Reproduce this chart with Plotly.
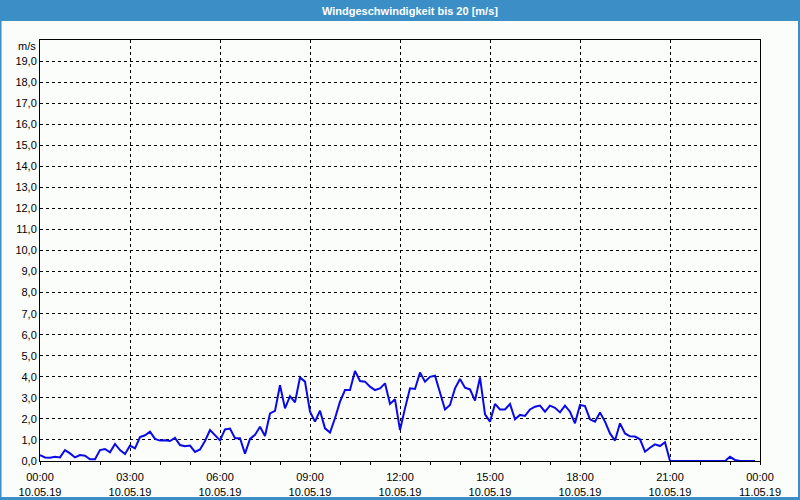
import pandas as pd
import plotly.graph_objects as go

# Wind speed [m/s], 10-minute values from 10.05.19 00:00 to 23:50
speed = [
    0.28, 0.17, 0.16, 0.20, 0.17, 0.52, 0.36, 0.17, 0.28, 0.25, 0.08, 0.08,
    0.52, 0.57, 0.41, 0.81, 0.52, 0.33, 0.73, 0.60, 1.14, 1.22, 1.39, 1.05,
    0.97, 0.98, 0.95, 1.10, 0.76, 0.70, 0.73, 0.43, 0.55, 0.95, 1.47, 1.24,
    0.98, 1.50, 1.54, 1.08, 1.08, 0.35, 1.05, 1.24, 1.63, 1.19, 2.26, 2.38,
    3.60, 2.50, 3.08, 2.79, 3.97, 3.77, 2.34, 1.87, 2.39, 1.55, 1.35, 2.03,
    2.82, 3.37, 3.37, 4.28, 3.80, 3.77, 3.53, 3.37, 3.45, 3.69, 2.71, 2.93,
    1.47, 2.50, 3.45, 3.42, 4.20, 3.77, 4.00, 4.05, 3.21, 2.45, 2.66, 3.45,
    3.90, 3.48, 3.40, 2.87, 3.97, 2.22, 1.87, 2.71, 2.45, 2.45, 2.71, 1.98,
    2.19, 2.14, 2.45, 2.58, 2.63, 2.34, 2.63, 2.53, 2.31, 2.63, 2.34, 1.79,
    2.66, 2.61, 1.98, 1.87, 2.30, 1.87, 1.31, 0.97, 1.79, 1.31, 1.17, 1.16,
    1.03, 0.44, 0.63, 0.79, 0.71, 0.89, 0.00, 0.00, 0.00, 0.00, 0.00, 0.00,
    0.00, 0.00, 0.00, 0.00, 0.00, 0.00, 0.20, 0.05, 0.00, 0.00, 0.00, 0.00,
]
times = pd.date_range("2019-05-10 00:00", periods=len(speed), freq="10min")

x_ticks = pd.date_range("2019-05-10 00:00", periods=9, freq="3h")
x_ticktext = [t.strftime("%H:%M") + "<br>" + t.strftime("%d.%m.%y") for t in x_ticks]
y_ticks = list(range(0, 20))
y_ticktext = [f"{v},0" for v in y_ticks]

title_text = "Windgeschwindigkeit bis 20 [m/s]"
unit_text = "m/s"

BLUE = "#3c8fc6"
BG = "#fbfdfb"
FONT = "Liberation Sans, Arial, sans-serif"

W, H = 800, 500
L, R, T, B = 40, 40, 40, 39
pw, ph = W - L - R, H - T - B


def px(xp):
    return (xp - L) / pw


def py(yp):
    return (H - B - yp) / ph


fig = go.Figure()
fig.add_trace(go.Scatter(
    x=times, y=speed, mode="lines",
    line=dict(color="#0a0ae6", width=2),
    hoverinfo="skip", showlegend=False,
))

fig.update_layout(
    width=W, height=H,
    margin=dict(l=L, r=R, t=T, b=B, autoexpand=False),
    paper_bgcolor=BG, plot_bgcolor=BG,
    font=dict(family=FONT, size=11, color="black"),
    showlegend=False,
    xaxis=dict(
        range=[times[0], pd.Timestamp("2019-05-11 00:00")],
        tickmode="array", tickvals=x_ticks, ticktext=x_ticktext,
        ticks="outside", ticklen=3, tickcolor="black",
        showgrid=True, gridcolor="black", gridwidth=1, griddash="3px,3px",
        showline=True, linecolor="black", linewidth=1, mirror=True,
        zeroline=False, automargin=False, ticklabelstandoff=3,
        minor=dict(dtick=3600000, tick0="2019-05-10 00:00", ticks="outside",
                   ticklen=3, tickcolor="black", showgrid=False),
        tickfont=dict(family=FONT, size=11, color="black"),
        fixedrange=True,
    ),
    yaxis=dict(
        range=[0, 20],
        tickmode="array", tickvals=y_ticks, ticktext=y_ticktext,
        ticks="",
        showgrid=True, gridcolor="black", gridwidth=1, griddash="3px,3px",
        showline=True, linecolor="black", linewidth=1, mirror=True,
        zeroline=False, automargin=False,
        tickfont=dict(family=FONT, size=11, color="black"),
        fixedrange=True,
    ),
    shapes=[
        dict(type="rect", xref="paper", yref="paper", layer="above",
             x0=px(0), x1=px(W), y0=py(21), y1=py(0),
             fillcolor=BLUE, line=dict(width=0)),
        dict(type="rect", xref="paper", yref="paper", layer="above",
             x0=px(0), x1=px(1.5), y0=py(H), y1=py(0),
             fillcolor=BLUE, line=dict(width=0)),
        dict(type="rect", xref="paper", yref="paper", layer="above",
             x0=px(W - 2), x1=px(W), y0=py(H), y1=py(0),
             fillcolor=BLUE, line=dict(width=0)),
        dict(type="rect", xref="paper", yref="paper", layer="above",
             x0=px(0), x1=px(W), y0=py(H), y1=py(H - 3),
             fillcolor=BLUE, line=dict(width=0)),
    ],
    annotations=[
        dict(text="<b>" + title_text + "</b>", xref="paper", yref="paper",
             x=px(410), y=py(11), xanchor="center", yanchor="middle",
             showarrow=False, font=dict(family=FONT, size=11, color="white")),
        dict(text=unit_text, xref="paper", yref="paper",
             x=px(38), y=py(46), xanchor="right", yanchor="middle",
             showarrow=False, font=dict(family=FONT, size=11, color="black")),
    ],
)

fig.write_html("out.html", config={"displayModeBar": False})
